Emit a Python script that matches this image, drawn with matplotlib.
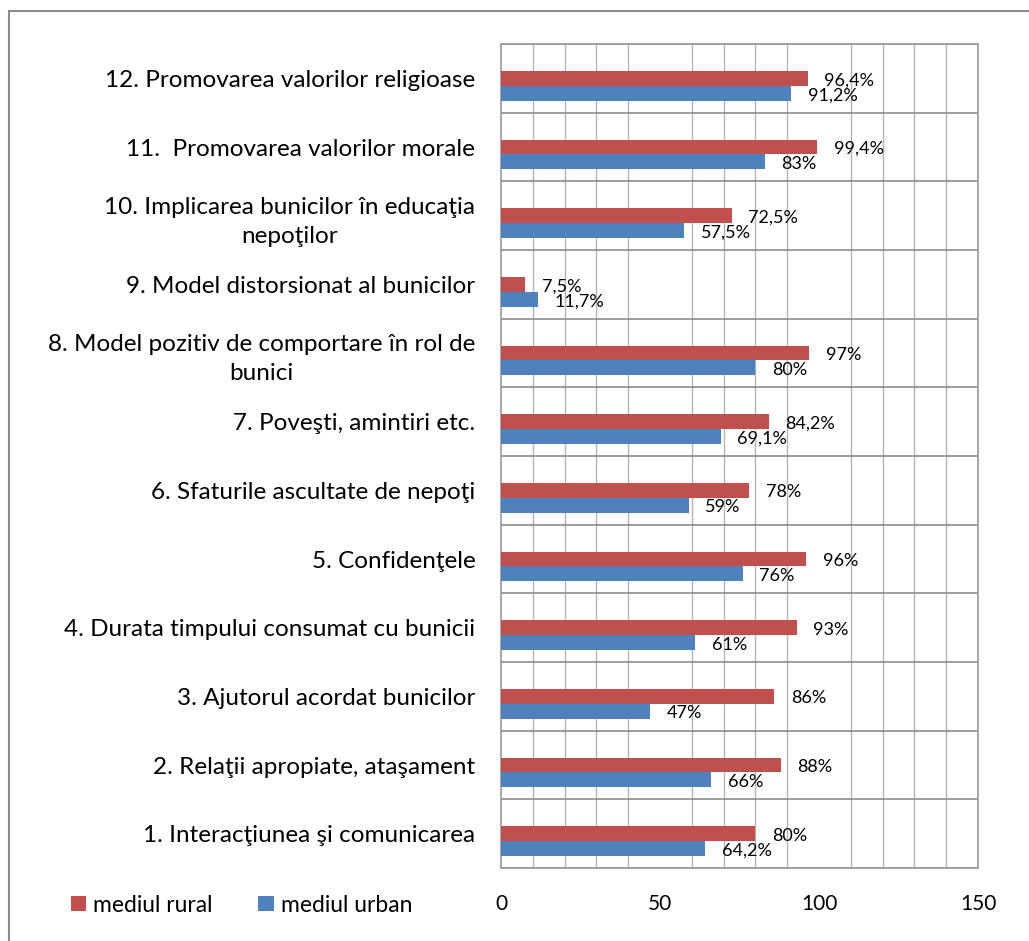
import matplotlib.pyplot as plt
import matplotlib.patches as mpatches
import numpy as np

plt.rcParams['font.family'] = ['Lato', 'DejaVu Sans']

# categories from bottom (1) to top (12)
categorii = [
    "1. Interacţiunea şi comunicarea",
    "2. Relaţii apropiate, ataşament",
    "3. Ajutorul acordat bunicilor",
    "4. Durata timpului consumat cu bunicii",
    "5. Confidenţele",
    "6. Sfaturile ascultate de nepoţi",
    "7. Poveşti, amintiri etc.",
    "8. Model pozitiv de comportare în rol de\nbunici",
    "9. Model distorsionat al bunicilor",
    "10. Implicarea bunicilor în educaţia\nnepoţilor",
    "11.  Promovarea valorilor morale",
    "12. Promovarea valorilor religioase",
]
rural = [80, 88, 86, 93, 96, 78, 84.2, 97, 7.5, 72.5, 99.4, 96.4]
urban = [64.2, 66, 47, 61, 76, 59, 69.1, 80, 11.7, 57.5, 83, 91.2]
et_rural = ["80%", "88%", "86%", "93%", "96%", "78%", "84,2%", "97%", "7,5%", "72,5%", "99,4%", "96,4%"]
et_urban = ["64,2%", "66%", "47%", "61%", "76%", "59%", "69,1%", "80%", "11,7%", "57,5%", "83%", "91,2%"]

c_rural = '#c0504d'
c_urban = '#4f81bd'

fig = plt.figure(figsize=(10.29, 9.41), dpi=100)
ax = fig.add_axes([501/1029, 1 - 868/941, 477/1029, 824/941])

y = np.arange(len(categorii))
h = 0.218
ax.barh(y, rural, height=h, color=c_rural, label='mediul rural', zorder=3)
ax.barh(y - h, urban, height=h, color=c_urban, label='mediul urban', zorder=3)

for i in range(len(y)):
    ax.annotate(et_rural[i], (rural[i], y[i]), xytext=(12, -1.5), textcoords='offset points',
                va='center', ha='left', fontsize=13, zorder=4)
    ax.annotate(et_urban[i], (urban[i], y[i] - h), xytext=(12, -1.5), textcoords='offset points',
                va='center', ha='left', fontsize=13, zorder=4)

ax.set_xlim(0, 150)
ax.set_ylim(-0.5, len(categorii) - 0.5)
ax.set_xticks([0, 50, 100, 150])
ax.set_xticks(np.arange(0, 151, 10), minor=True)
ax.set_yticks(y)
ax.set_yticklabels(categorii, fontsize=17.5, multialignment='center', linespacing=1.5)
ax.set_yticks(np.arange(-0.5, len(categorii), 1), minor=True)
ax.tick_params(axis='x', which='both', length=0, labelsize=15, pad=19)
ax.tick_params(axis='y', which='both', length=0, pad=18.5)
ax.grid(axis='x', which='minor', color='#b3b3b3', linewidth=1.0, zorder=0)
ax.grid(axis='y', which='minor', color='#8c8c8c', linewidth=1.2, zorder=0)
for s in ax.spines.values():
    s.set_color('#9a9a9a')
    s.set_linewidth(1.2)

# chart frame (left/top visible)
fig.patches.append(mpatches.Rectangle((9/1029, -0.05), 1.2, 1 - 11/941 + 0.05,
                                      transform=fig.transFigure, fill=False,
                                      edgecolor='#8a8a8a', linewidth=1.5))

fig.legend(loc='center left', bbox_to_anchor=(50/1029, 1 - 905/941), ncol=2,
           frameon=False, fontsize=16.5, handlelength=0.66, handleheight=0.66,
           handletextpad=0.32, columnspacing=2.0)

fig.savefig('out.png', dpi=100)
